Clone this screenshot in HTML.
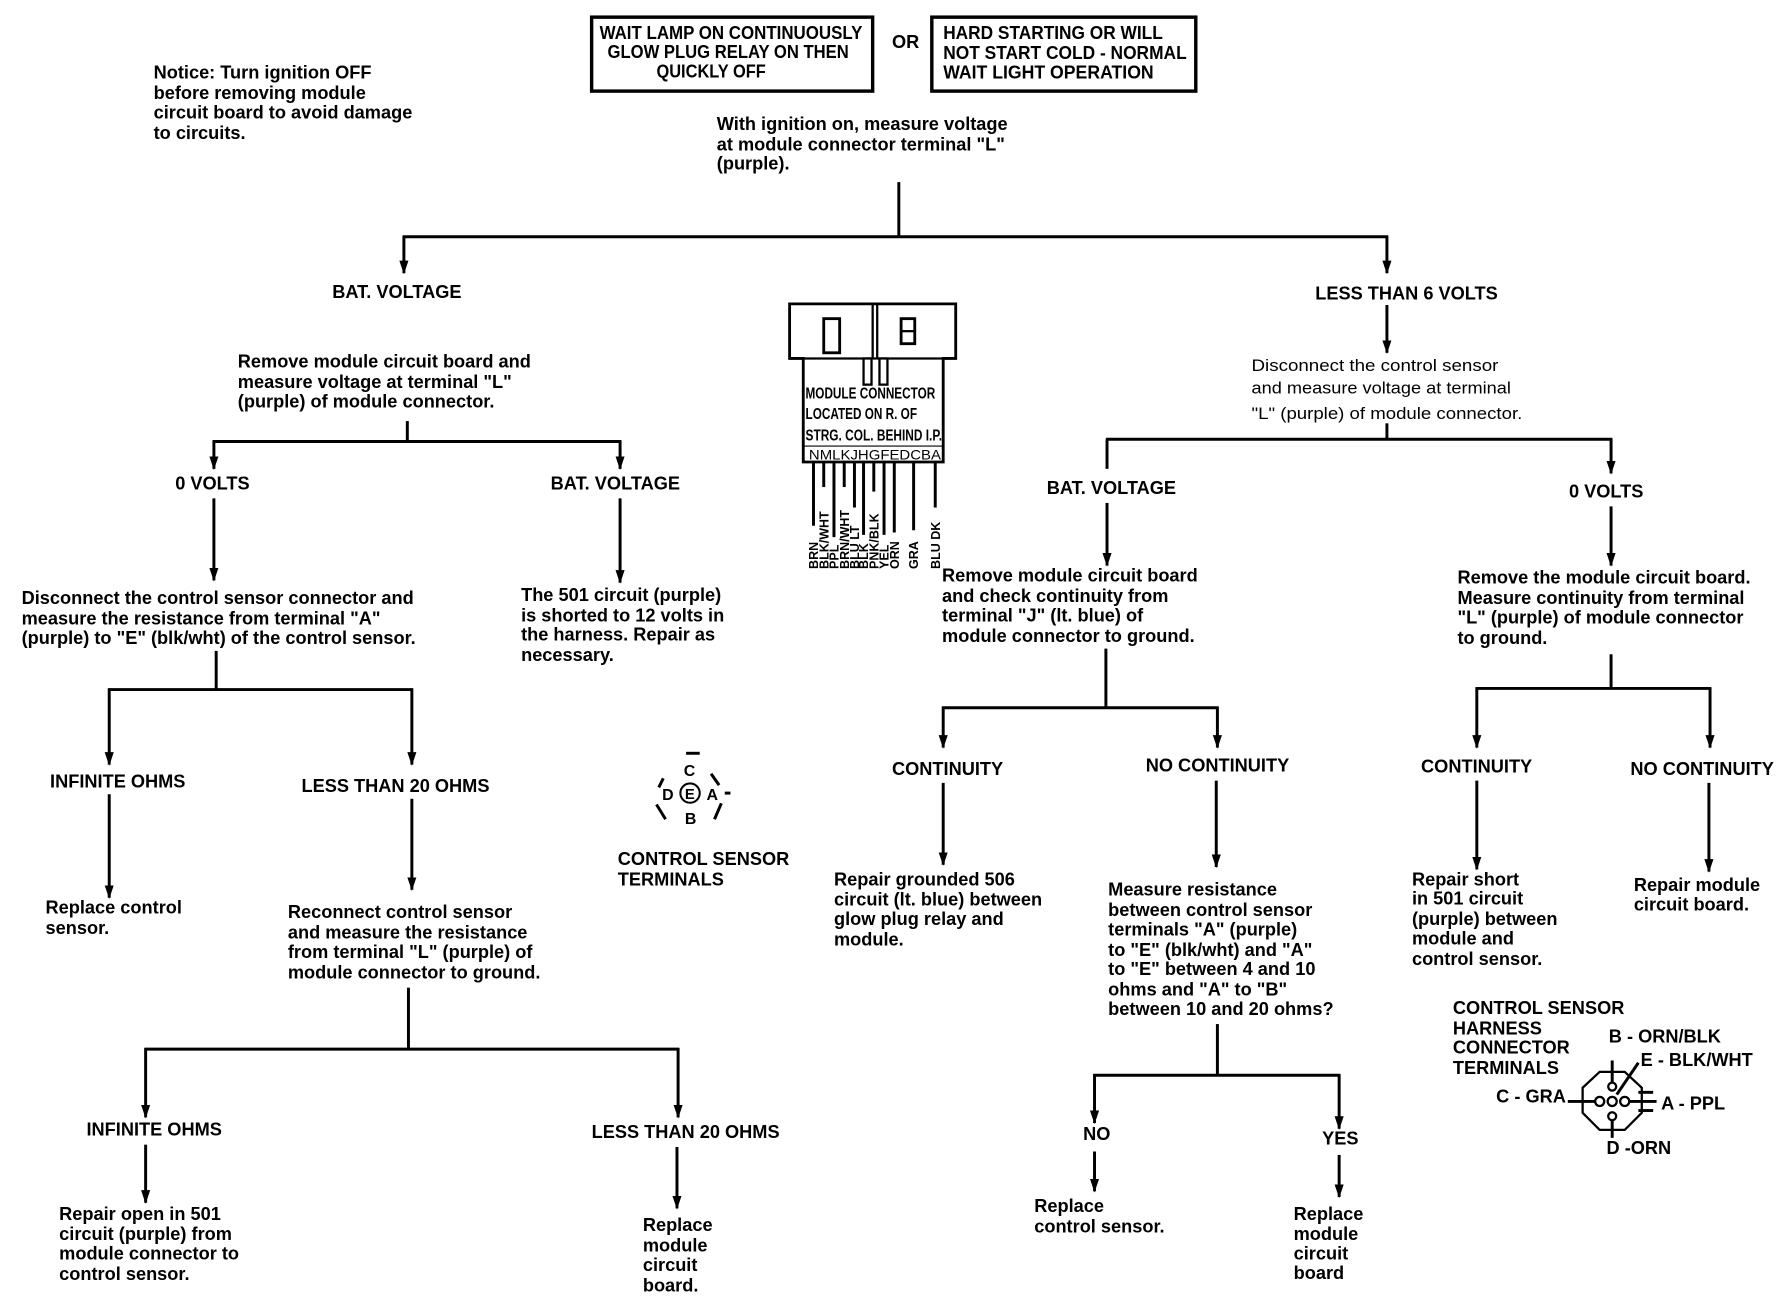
<!DOCTYPE html>
<html><head><meta charset="utf-8"><style>
html,body{margin:0;padding:0;background:#fff;}
svg{display:block;}
text{font-family:"Liberation Sans",Arial,sans-serif;font-weight:bold;font-size:16px;fill:#000;}
.c{font-size:14px;}
.w{font-size:11px;}
.n{font-weight:normal;font-size:15px;}
line,polyline{stroke:#000;stroke-width:2.6;fill:none;}
</style></head><body>
<svg width="1784" height="1312" viewBox="0 0 1568 1153" xmlns="http://www.w3.org/2000/svg">
<defs><marker id="a" markerWidth="12" markerHeight="10" refX="11" refY="5" orient="auto" markerUnits="userSpaceOnUse" viewBox="0 0 12 10"><path d="M0,1 L12,5 L0,9 Z" fill="#000"/></marker></defs>
<style>.ar{marker-end:url(#a);}</style>

<!-- top boxes -->
<rect x="520" y="15" width="247" height="65" fill="none" stroke="#000" stroke-width="3"/>
<text x="527" y="34" textLength="231" lengthAdjust="spacingAndGlyphs">WAIT LAMP ON CONTINUOUSLY</text>
<text x="534" y="51" textLength="212" lengthAdjust="spacingAndGlyphs">GLOW PLUG RELAY ON THEN</text>
<text x="577" y="68" textLength="96" lengthAdjust="spacingAndGlyphs">QUICKLY OFF</text>
<text x="784" y="42">OR</text>
<rect x="819" y="15" width="232" height="65" fill="none" stroke="#000" stroke-width="3"/>
<text x="829" y="34" textLength="193" lengthAdjust="spacingAndGlyphs">HARD STARTING OR WILL</text>
<text x="829" y="52" textLength="214" lengthAdjust="spacingAndGlyphs">NOT START COLD - NORMAL</text>
<text x="829" y="69" textLength="185" lengthAdjust="spacingAndGlyphs">WAIT LIGHT OPERATION</text>

<text x="135" y="69">Notice:  Turn ignition OFF</text>
<text x="135" y="87">before removing module</text>
<text x="135" y="104">circuit board to avoid damage</text>
<text x="135" y="122">to circuits.</text>

<text x="630" y="114">With ignition on, measure voltage</text>
<text x="630" y="132">at module connector terminal "L"</text>
<text x="630" y="149">(purple).</text>

<line x1="790" y1="160" x2="790" y2="208"/>
<line x1="354" y1="208" x2="1220" y2="208"/>
<line class="ar" x1="355" y1="207" x2="355" y2="240"/>
<line class="ar" x1="1219" y1="207" x2="1219" y2="240"/>

<text x="292" y="262">BAT. VOLTAGE</text>
<text x="1156" y="263">LESS THAN 6 VOLTS</text>

<!-- left branch -->
<text x="209" y="323">Remove module circuit board and</text>
<text x="209" y="341">measure voltage at terminal "L"</text>
<text x="209" y="358">(purple) of module connector.</text>
<line x1="358" y1="370" x2="358" y2="388"/>
<line x1="187" y1="388" x2="546" y2="388"/>
<line class="ar" x1="188" y1="387" x2="188" y2="412"/>
<line class="ar" x1="545" y1="387" x2="545" y2="412"/>
<text x="154" y="430">0 VOLTS</text>
<text x="484" y="430">BAT. VOLTAGE</text>
<line class="ar" x1="188" y1="438" x2="188" y2="510"/>
<line class="ar" x1="545" y1="438" x2="545" y2="512"/>
<text x="19" y="531">Disconnect the control sensor connector and</text>
<text x="19" y="549">measure the resistance from terminal "A"</text>
<text x="19" y="566">(purple) to "E" (blk/wht) of the control sensor.</text>
<text x="458" y="528">The 501 circuit (purple)</text>
<text x="458" y="546">is shorted to 12 volts in</text>
<text x="458" y="563">the harness.  Repair as</text>
<text x="458" y="581">necessary.</text>
<line x1="190" y1="572" x2="190" y2="606"/>
<line x1="95" y1="606" x2="363" y2="606"/>
<line class="ar" x1="96" y1="605" x2="96" y2="672"/>
<line class="ar" x1="362" y1="605" x2="362" y2="672"/>
<text x="44" y="692">INFINITE OHMS</text>
<text x="265" y="696">LESS THAN 20 OHMS</text>
<line class="ar" x1="96" y1="698" x2="96" y2="789"/>
<line class="ar" x1="362" y1="702" x2="362" y2="782"/>
<text x="40" y="803">Replace control</text>
<text x="40" y="821">sensor.</text>
<text x="253" y="807">Reconnect control sensor</text>
<text x="253" y="825">and measure the resistance</text>
<text x="253" y="842">from terminal "L" (purple) of</text>
<text x="253" y="860">module connector  to ground.</text>
<line x1="359" y1="868" x2="359" y2="922"/>
<line x1="127" y1="922" x2="597" y2="922"/>
<line class="ar" x1="128" y1="921" x2="128" y2="982"/>
<line class="ar" x1="596" y1="921" x2="596" y2="982"/>
<text x="76" y="998">INFINITE OHMS</text>
<text x="520" y="1000">LESS THAN 20 OHMS</text>
<line class="ar" x1="128" y1="1006" x2="128" y2="1057"/>
<line class="ar" x1="595" y1="1008" x2="595" y2="1062"/>
<text x="52" y="1072">Repair open in 501</text>
<text x="52" y="1090">circuit (purple) from</text>
<text x="52" y="1107">module connector to</text>
<text x="52" y="1125">control sensor.</text>
<text x="565" y="1082">Replace</text>
<text x="565" y="1100">module</text>
<text x="565" y="1117">circuit</text>
<text x="565" y="1135">board.</text>

<!-- module connector -->
<path d="M694,267 L840,267 L840,315 L829,315 L829,406 L706,406 L706,315 L694,315 Z" fill="#fff" stroke="#000" stroke-width="2.5"/>
<line x1="767" y1="267" x2="767" y2="315" style="stroke-width:2"/>
<line x1="771" y1="267" x2="771" y2="315" style="stroke-width:2"/>
<line x1="694" y1="315" x2="840" y2="315" style="stroke-width:2"/>
<rect x="724" y="280" width="14" height="30" fill="none" stroke="#000" stroke-width="2.5"/>
<rect x="792" y="280" width="12" height="22" fill="none" stroke="#000" stroke-width="2.5"/>
<line x1="792" y1="291" x2="804" y2="291" style="stroke-width:2"/>
<rect x="759" y="315" width="7" height="23" fill="#fff" stroke="#000" stroke-width="2"/>
<rect x="773" y="315" width="7" height="23" fill="#fff" stroke="#000" stroke-width="2"/>
<text x="708" y="350" class="c" textLength="114" lengthAdjust="spacingAndGlyphs">MODULE CONNECTOR</text>
<text x="708" y="368" class="c" textLength="98" lengthAdjust="spacingAndGlyphs">LOCATED ON R. OF</text>
<text x="708" y="387" class="c" textLength="120" lengthAdjust="spacingAndGlyphs">STRG. COL. BEHIND I.P.</text>
<text x="711" y="404" style="font-weight:normal;font-size:12px" textLength="116" lengthAdjust="spacingAndGlyphs">NMLKJHGFEDCBA</text>
<line x1="706" y1="392" x2="829" y2="392" style="stroke-width:1"/>
<g style="stroke-width:1.6">
<line x1="715" y1="406" x2="715" y2="462"/><line x1="724" y1="406" x2="724" y2="428"/>
<line x1="733" y1="406" x2="733" y2="472"/><line x1="742" y1="406" x2="742" y2="428"/>
<line x1="751" y1="406" x2="751" y2="446"/><line x1="759" y1="406" x2="759" y2="470"/>
<line x1="768" y1="406" x2="768" y2="432"/><line x1="777" y1="406" x2="777" y2="470"/>
<line x1="786" y1="406" x2="786" y2="468"/><line x1="803" y1="406" x2="803" y2="466"/>
<line x1="822" y1="406" x2="822" y2="446"/>
</g>
<text class="w" transform="translate(719,500) rotate(-90)">BRN</text>
<text class="w" transform="translate(728,500) rotate(-90)">BLK/WHT</text>
<text class="w" transform="translate(737,500) rotate(-90)">PPL</text>
<text class="w" transform="translate(746,500) rotate(-90)">BRN/WHT</text>
<text class="w" transform="translate(755,500) rotate(-90)">BLU LT</text>
<text class="w" transform="translate(763,500) rotate(-90)">BLK</text>
<text class="w" transform="translate(772,500) rotate(-90)">PNK/BLK</text>
<text class="w" transform="translate(781,500) rotate(-90)">YEL</text>
<text class="w" transform="translate(790,500) rotate(-90)">ORN</text>
<text class="w" transform="translate(807,500) rotate(-90)">GRA</text>
<text class="w" transform="translate(826,500) rotate(-90)">BLU DK</text>

<!-- control sensor terminals -->
<text x="601" y="682" style="font-size:14px">C</text>
<text x="582" y="703" style="font-size:14px">D</text>
<text x="602" y="702" style="font-size:13px">E</text>
<text x="621" y="703" style="font-size:14px">A</text>
<text x="602" y="724" style="font-size:14px">B</text>
<circle cx="606.5" cy="697" r="8.5" fill="none" stroke="#000" stroke-width="1.8"/>
<g style="stroke-width:1.5">
<line x1="603" y1="662" x2="615" y2="662"/>
<line x1="583" y1="684" x2="579" y2="692"/><line x1="625" y1="680" x2="632" y2="690"/>
<line x1="577" y1="707" x2="585" y2="720"/><line x1="634" y1="706" x2="628" y2="720"/>
<line x1="637" y1="697" x2="642" y2="697"/>
</g>
<text x="543" y="760">CONTROL SENSOR</text>
<text x="543" y="778">TERMINALS</text>

<!-- right branch -->
<line class="ar" x1="1219" y1="268" x2="1219" y2="310"/>
<text class="n" x="1100" y="326" textLength="217" lengthAdjust="spacingAndGlyphs">Disconnect the control sensor</text>
<text class="n" x="1100" y="346" textLength="228" lengthAdjust="spacingAndGlyphs">and measure voltage at terminal</text>
<text class="n" x="1100" y="368" textLength="238" lengthAdjust="spacingAndGlyphs">"L" (purple) of module connector.</text>
<line x1="1219" y1="372" x2="1219" y2="386"/>
<line x1="972" y1="386" x2="1417" y2="386"/>
<line x1="973" y1="386" x2="973" y2="412"/>
<line class="ar" x1="1416" y1="385" x2="1416" y2="416"/>
<text x="920" y="434">BAT. VOLTAGE</text>
<text x="1379" y="437">0 VOLTS</text>
<line class="ar" x1="973" y1="442" x2="973" y2="497"/>
<line class="ar" x1="1416" y1="445" x2="1416" y2="497"/>
<text x="828" y="511">Remove module circuit board</text>
<text x="828" y="529">and check continuity from</text>
<text x="828" y="546">terminal "J" (lt. blue) of</text>
<text x="828" y="564">module connector to ground.</text>
<text x="1281" y="513">Remove the module circuit board.</text>
<text x="1281" y="531">Measure continuity from terminal</text>
<text x="1281" y="548">"L" (purple) of module connector</text>
<text x="1281" y="566">to ground.</text>
<line x1="972" y1="570" x2="972" y2="622"/>
<line x1="828" y1="622" x2="1071" y2="622"/>
<line class="ar" x1="829" y1="621" x2="829" y2="657"/>
<line class="ar" x1="1070" y1="621" x2="1070" y2="657"/>
<text x="784" y="681">CONTINUITY</text>
<text x="1007" y="678">NO CONTINUITY</text>
<line class="ar" x1="829" y1="688" x2="829" y2="760"/>
<line class="ar" x1="1069" y1="686" x2="1069" y2="762"/>
<text x="733" y="778">Repair grounded 506</text>
<text x="733" y="796">circuit (lt. blue) between</text>
<text x="733" y="813">glow plug relay and</text>
<text x="733" y="831">module.</text>
<text x="974" y="787">Measure resistance</text>
<text x="974" y="805">between control sensor</text>
<text x="974" y="822">terminals "A" (purple)</text>
<text x="974" y="840">to "E" (blk/wht) and "A"</text>
<text x="974" y="857">to "E" between 4 and 10</text>
<text x="974" y="875">ohms and "A" to "B"</text>
<text x="974" y="892">between 10 and 20 ohms?</text>
<line x1="1070" y1="900" x2="1070" y2="945"/>
<line x1="961" y1="945" x2="1178" y2="945"/>
<line class="ar" x1="962" y1="944" x2="962" y2="987"/>
<line class="ar" x1="1177" y1="944" x2="1177" y2="992"/>
<text x="952" y="1002">NO</text>
<text x="1162" y="1006">YES</text>
<line class="ar" x1="962" y1="1012" x2="962" y2="1047"/>
<line class="ar" x1="1177" y1="1015" x2="1177" y2="1052"/>
<text x="909" y="1065">Replace</text>
<text x="909" y="1083">control sensor.</text>
<text x="1137" y="1072">Replace</text>
<text x="1137" y="1090">module</text>
<text x="1137" y="1107">circuit</text>
<text x="1137" y="1124">board</text>

<line x1="1416" y1="575" x2="1416" y2="605"/>
<line x1="1297" y1="605" x2="1504" y2="605"/>
<line class="ar" x1="1298" y1="604" x2="1298" y2="657"/>
<line class="ar" x1="1503" y1="604" x2="1503" y2="657"/>
<text x="1249" y="679">CONTINUITY</text>
<text x="1433" y="681">NO CONTINUITY</text>
<line class="ar" x1="1298" y1="686" x2="1298" y2="764"/>
<line class="ar" x1="1502" y1="688" x2="1502" y2="766"/>
<text x="1241" y="778">Repair short</text>
<text x="1241" y="795">in 501 circuit</text>
<text x="1241" y="813">(purple) between</text>
<text x="1241" y="830">module and</text>
<text x="1241" y="848">control sensor.</text>
<text x="1436" y="783">Repair module</text>
<text x="1436" y="800">circuit board.</text>

<text x="1277" y="891">CONTROL SENSOR</text>
<text x="1277" y="909">HARNESS</text>
<text x="1277" y="926">CONNECTOR</text>
<text x="1277" y="944">TERMINALS</text>
<text x="1414" y="916">B - ORN/BLK</text>
<text x="1442" y="937">E - BLK/WHT</text>
<text x="1315" y="969">C - GRA</text>
<text x="1460" y="975">A - PPL</text>
<text x="1412" y="1014">D -ORN</text>
<polygon points="1406,942 1428,942 1443,956 1443,978 1428,993 1406,993 1391,978 1391,956" fill="none" stroke="#000" stroke-width="2"/>
<g fill="none" stroke="#000" stroke-width="2">
<circle cx="1406" cy="968" r="4"/><circle cx="1417" cy="968" r="4"/><circle cx="1428" cy="968" r="4"/>
<circle cx="1417" cy="955" r="3.5"/><circle cx="1417" cy="981" r="3.5"/>
</g>
<g style="stroke-width:1.5">
<line x1="1378" y1="968" x2="1402" y2="968"/>
<line x1="1417" y1="932" x2="1417" y2="951"/>
<line x1="1417" y1="985" x2="1417" y2="1000"/>
<line x1="1440" y1="934" x2="1421" y2="962"/>
<line x1="1432" y1="968" x2="1456" y2="968"/>
<line x1="1440" y1="960" x2="1453" y2="960"/><line x1="1440" y1="976" x2="1453" y2="976"/>
</g>
</svg>
</body></html>
